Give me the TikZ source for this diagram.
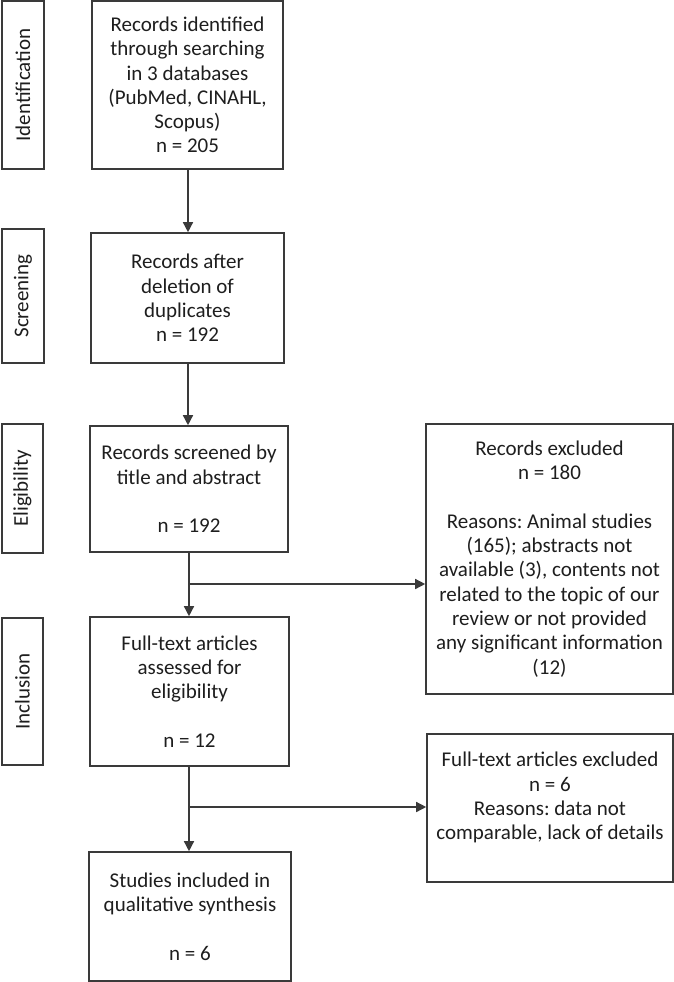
\documentclass[tikz,border=0pt]{standalone}
\usepackage{fontspec}
\setmainfont{Carlito}
\frenchspacing
\usetikzlibrary{arrows.meta}
\definecolor{linec}{HTML}{3A3A3A}
\definecolor{textc}{HTML}{1E1E1E}
\begin{document}
\begin{tikzpicture}[x=1pt,y=-1pt,
  every node/.style={font=\fontsize{21}{24.3}\selectfont, text=textc},
  box/.style={draw=linec, line width=1.6pt, rectangle, align=center, inner sep=0pt, fill=white},
  sidebox/.style={draw=linec, line width=1.6pt, rectangle, inner sep=0pt, minimum width=42pt},
  sidelabel/.style={rotate=90, inner sep=0pt},
  conn/.style={draw=linec, line width=1.4pt},
  arr/.style={conn, -{Triangle[length=10pt,width=10pt]}}]
\useasboundingbox (0,0) rectangle (674,982);
\fill[white] (0,0) rectangle (674,982);

% side stage boxes
\node[sidebox, minimum height=168pt] (s1) at (23,85) {};
\node[sidelabel] (l1) at (s1.center) {Identification};
\node[sidebox, minimum height=134pt] (s2) at (23,296) {};
\node[sidelabel] (l2) at (s2.center) {Screening};
\node[sidebox, minimum width=41pt, minimum height=129pt] (s3) at (22.5,488.5) {};
\node[sidelabel] (l3) at (s3.center) {Eligibility};
\node[sidebox, minimum width=41pt, minimum height=147pt] (s4) at (22.5,691.5) {};
\node[sidelabel] (l4) at (s4.center) {Inclusion};

% main boxes
\node[box, minimum width=191pt, minimum height=168pt] (b1) at (187.5,85)
  {Records identified\\through searching\\in 3 databases\\(PubMed, CINAHL,\\Scopus)\\n = 205};
\node[box, minimum width=193pt, minimum height=130pt] (b2) at (187.5,298)
  {Records after\\deletion of\\duplicates\\n = 192};
\node[box, minimum width=198pt, minimum height=126pt] (b3) at (189,489)
  {Records screened by\\title and abstract\\[24.3pt]n = 192};
\node[box, minimum width=199pt, minimum height=149pt] (b4) at (189.5,691.5)
  {Full-text articles\\assessed for\\eligibility\\[24.3pt]n = 12};
\node[box, minimum width=202pt, minimum height=129pt] (b5) at (190,916.5)
  {Studies included in\\qualitative synthesis\\[24.3pt]n = 6};

% exclusion boxes
\node[box, minimum width=247pt, minimum height=270pt] (r1) at (549.5,559)
  {Records excluded\\n = 180\\[24.3pt]Reasons: Animal studies\\(165); abstracts not\\available (3), contents not\\related to the topic of our\\review or not provided\\any significant information\\(12)};
\node[box, minimum width=246pt, minimum height=148pt] (r2) at (550,808)
  {Full-text articles excluded\\n = 6\\Reasons: data not\\comparable, lack of details\\\mbox{}};

% connectors
\draw[arr] (b1.south -| 188,0) -- (b2.north -| 188,0);
\draw[arr] (b2.south -| 188,0) -- (b3.north -| 188,0);
\draw[arr] (b3.south -| 189,0) -- (b4.north -| 189,0);
\draw[arr] (b4.south -| 189,0) -- (b5.north -| 189,0);
\coordinate (j1) at (189,584);
\coordinate (j2) at (189,807);
\draw[arr] (j1) -- (j1 -| r1.west);
\draw[arr] (j2) -- (j2 -| r2.west);
\end{tikzpicture}
\end{document}
